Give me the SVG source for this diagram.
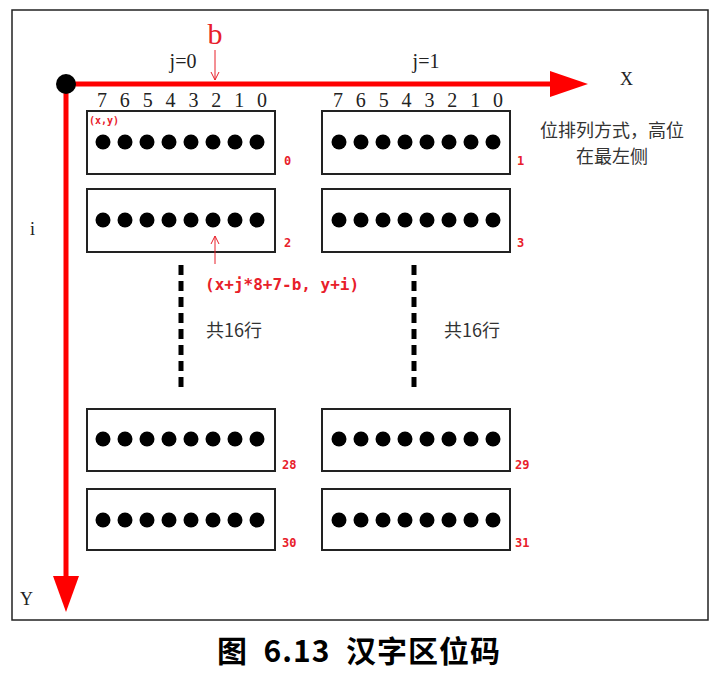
<svg xmlns="http://www.w3.org/2000/svg" width="718" height="683" viewBox="0 0 718 683">
<style>
.box{fill:#fff;stroke:#222;stroke-width:2}
.dot{fill:#000}
.ser{font-family:"Liberation Serif",serif;fill:#222}
.red{fill:#e8202a;font-family:"DejaVu Sans Mono",monospace;font-weight:bold}
.cjk{font-family:"Noto Sans CJK SC",sans-serif;fill:#333}
.dash{stroke:#000;stroke-width:5;stroke-dasharray:10,6}
</style>
<defs>
<g id="dots"><circle cx="0" cy="0" r="7.5" class="dot"/><circle cx="22" cy="0" r="7.5" class="dot"/><circle cx="44" cy="0" r="7.5" class="dot"/><circle cx="66" cy="0" r="7.5" class="dot"/><circle cx="88" cy="0" r="7.5" class="dot"/><circle cx="110" cy="0" r="7.5" class="dot"/><circle cx="132" cy="0" r="7.5" class="dot"/><circle cx="154" cy="0" r="7.5" class="dot"/></g>
</defs>
<rect width="718" height="683" fill="#fff"/>
<rect x="12" y="10" width="696" height="610" fill="none" stroke="#222" stroke-width="1.5"/>
<g id="n0"><rect x="87" y="111" width="188" height="63" class="box"/><use href="#dots" x="103" y="142"/><text x="89" y="124" class="red" font-size="10">(x,y)</text><text x="284" y="165" class="red" font-size="12">0</text></g>
<g id="n2"><rect x="87" y="189" width="188" height="63" class="box"/><use href="#dots" x="103" y="220"/><text x="284" y="247" class="red" font-size="12">2</text></g>
<g id="n1"><rect x="322" y="111" width="188" height="63" class="box"/><use href="#dots" x="339" y="142"/><text x="517" y="165" class="red" font-size="12">1</text></g>
<g id="n3"><rect x="322" y="189" width="188" height="63" class="box"/><use href="#dots" x="339" y="220"/><text x="517" y="247" class="red" font-size="12">3</text></g>
<g id="n28"><rect x="87" y="409" width="188" height="62" class="box"/><use href="#dots" x="103" y="439"/><text x="282" y="469" class="red" font-size="12">28</text></g>
<g id="n29"><rect x="322" y="409" width="188" height="62" class="box"/><use href="#dots" x="339" y="439"/><text x="515" y="469" class="red" font-size="12">29</text></g>
<g id="n30"><rect x="87" y="489" width="188" height="61" class="box"/><use href="#dots" x="103" y="520"/><text x="282" y="547" class="red" font-size="12">30</text></g>
<g id="n31"><rect x="322" y="489" width="188" height="61" class="box"/><use href="#dots" x="339" y="520"/><text x="515" y="547" class="red" font-size="12">31</text></g>
<g id="connectors">
<line x1="66" y1="84" x2="555" y2="84" stroke="#f00" stroke-width="5"/>
<polygon points="550,71 588,84 550,97" fill="#f00"/>
<line x1="66" y1="84" x2="66" y2="580" stroke="#f00" stroke-width="5"/>
<polygon points="53,576 66,612 79,576" fill="#f00"/>
<circle cx="66" cy="84" r="10" fill="#000"/>
<line x1="215" y1="50" x2="215" y2="80" stroke="#e8202a" stroke-width="1"/>
<polyline points="211,72 215,80 219,72" fill="none" stroke="#e8202a"/>
<line x1="215" y1="236" x2="215" y2="264" stroke="#e8202a" stroke-width="1"/>
<polyline points="211,244 215,236 219,244" fill="none" stroke="#e8202a"/>
<line x1="181" y1="265" x2="181" y2="392" class="dash"/>
<line x1="414" y1="265" x2="414" y2="392" class="dash"/>
</g>
<text x="215" y="44" text-anchor="middle" class="ser" style="fill:#e8202a" font-size="30">b</text>
<text x="183" y="68" text-anchor="middle" class="ser" font-size="20">j=0</text>
<text x="426" y="68" text-anchor="middle" class="ser" font-size="20">j=1</text>
<text x="620" y="85" class="ser" font-size="18">X</text>
<text x="30" y="235" class="ser" font-size="18">i</text>
<text x="20" y="605" class="ser" font-size="18">Y</text>
<text x="97" y="107" class="ser" font-size="20" textLength="170">7 6 5 4 3 2 1 0</text>
<text x="333" y="107" class="ser" font-size="20" textLength="170">7 6 5 4 3 2 1 0</text>
<text x="612" y="137" text-anchor="middle" class="cjk" font-size="18">位排列方式，高位</text>
<text x="612" y="163" text-anchor="middle" class="cjk" font-size="18">在最左侧</text>
<text x="205" y="290" class="red" font-size="16">(x+j*8+7-b, y+i)</text>
<text x="206" y="337" class="cjk" font-size="18">共16行</text>
<text x="444" y="337" class="cjk" font-size="18">共16行</text>
<text x="359" y="662" text-anchor="middle" font-family="'Noto Sans CJK SC',sans-serif" font-weight="bold" font-size="30" fill="#000" xml:space="preserve" letter-spacing="1">图  6.13  汉字区位码</text>
</svg>
